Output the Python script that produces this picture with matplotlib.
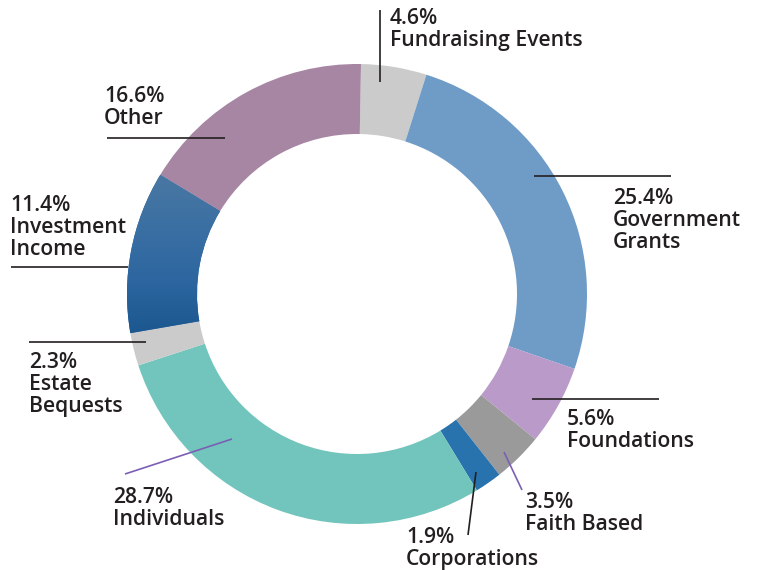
import numpy as np
import matplotlib
matplotlib.use('Agg')
from matplotlib import pyplot as plt
from matplotlib.colors import LinearSegmentedColormap

# datos del grafico (sentido horario desde arriba)
categorias = ['Fundraising Events', 'Government Grants', 'Foundations', 'Faith Based',
              'Corporations', 'Individuals', 'Estate Bequests', 'Investment Income', 'Other']
porcentajes = [4.6, 25.4, 5.6, 3.5, 1.9, 28.7, 2.3, 11.4, 16.6]
colores = ['#cbcbcb', '#6f9bc7', '#b99ac8', '#9a9a9a', '#2872ad',
           '#72c5bc', '#cbcbcb', '#24609a', '#a786a4']
etiquetas = ['4.6%\nFundraising Events', '25.4%\nGovernment\nGrants', '5.6%\nFoundations',
             '3.5%\nFaith Based', '1.9%\nCorporations', '28.7%\nIndividuals',
             '2.3%\nEstate\nBequests', '11.4%\nInvestment\nIncome', '16.6%\nOther']

W, H = 758, 570
fig = plt.figure(figsize=(W / 100, H / 100), dpi=100)
ax = fig.add_axes([0, 0, 1, 1])

cx, cy, R = 357, H - 294, 230
wedges, _ = ax.pie(porcentajes, colors=colores, startangle=89, counterclock=False,
                   radius=R, center=(cx, cy), frame=True,
                   wedgeprops=dict(width=70, linewidth=0))
ax.set_xlim(0, W)
ax.set_ylim(0, H)
ax.set_aspect('equal')
ax.axis('off')

# degradado en Investment Income
cmap = LinearSegmentedColormap.from_list('inv', ['#1b578f', '#2d66a0', '#3b70a3', '#4b78a2'])
grad = np.linspace(0, 1, 256).reshape(-1, 1)
w = wedges[7]
im = ax.imshow(grad, cmap=cmap, origin='lower', aspect='auto',
               extent=(cx - R, cx, H - 335, H - 170), zorder=w.get_zorder() + 0.1)
im.set_clip_path(w)

def px(x, y):
    return x, H - y

# lineas guia (en pixeles de la imagen)
guias = [((380, 10), (380, 82), '#231f20'),
         ((534, 176), (671, 176), '#231f20'),
         ((532, 399), (659, 399), '#231f20'),
         ((504, 452), (522, 490), '#7b5fb5'),
         ((476, 472), (468, 535), '#231f20'),
         ((232, 439), (125, 474), '#7b5fb5'),
         ((29, 342), (146, 342), '#231f20'),
         ((11, 267), (128, 267), '#231f20'),
         ((107, 138), (225, 138), '#231f20')]
for a, b, c in guias:
    (x0, y0), (x1, y1) = px(*a), px(*b)
    ax.plot([x0, x1], [y0, y1], color=c, lw=1.2, solid_capstyle='butt', zorder=5)

# posicion de texto: x izquierda, baseline de la ultima linea
pos_texto = [(390, 46), (613, 248), (567, 447), (525, 530), (406, 565),
             (113, 525), (29, 412), (10, 255), (104, 124)]
for txt, (x, y) in zip(etiquetas, pos_texto):
    ax.text(*px(x, y), txt, ha='left', va='baseline', fontsize=15.2,
            fontfamily='Open Sans', fontweight='semibold', color='#231f20',
            linespacing=1.05, zorder=6)

fig.savefig('out.png', dpi=100)
